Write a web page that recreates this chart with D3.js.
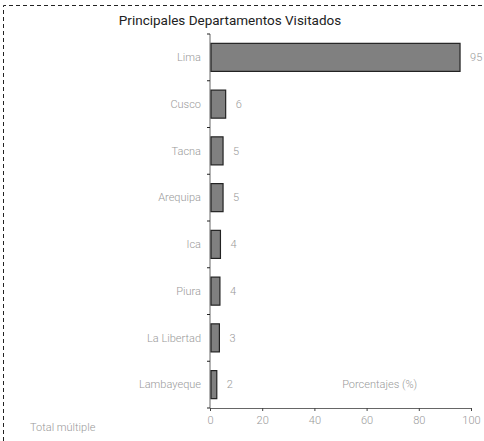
<!DOCTYPE html>
<html>
<head>
<meta charset="utf-8">
<script src="https://cdn.jsdelivr.net/npm/d3@7"></script>
<style>
  body { margin: 0; background: #fff; overflow: hidden; }
  svg { display: block; }
  text { font-family: Roboto, "Open Sans", sans-serif; font-weight: 300; }
</style>
</head>
<body>
<div id="chart"></div>
<script>
// data
const departamentos = ["Lima", "Cusco", "Tacna", "Arequipa", "Ica", "Piura", "La Libertad", "Lambayeque"];
const porcentajes = [95.8, 6.0, 5.0, 5.0, 4.0, 3.8, 3.6, 2.6];
const etiquetas = ["95", "6", "5", "5", "4", "4", "3", "2"];
const xTicks = [0, 20, 40, 60, 80, 100];

const margin = {top: 34, right: 13, bottom: 33, left: 210},
  width = 484 - margin.left - margin.right,
  height = 441 - margin.top - margin.bottom;

const svg = d3.select("#chart")
  .append("svg")
    .attr("width", 484)
    .attr("height", 441);

// dashed frame (only top and left edges are visible)
svg.append("path")
  .attr("d", "M3.5,441V5.5H484")
  .attr("fill", "none")
  .attr("stroke", "#222")
  .attr("stroke-dasharray", "4,3");

svg.append("text")
  .attr("x", 230)
  .attr("y", 25)
  .attr("text-anchor", "middle")
  .style("font-size", "13.5px")
  .style("font-weight", 400)
  .attr("fill", "#222")
  .text("Principales Departamentos Visitados");

const g = svg.append("g")
  .attr("transform", "translate(" + margin.left + "," + margin.top + ")");

let x = d3.scaleLinear()
  .domain([0, 100])
  .range([0, 261]);

let y = d3.scaleBand()
  .domain(departamentos)
  .range([0, 374])
  .paddingInner(0.4)
  .paddingOuter(0.2);

// x axis
const xAxis = g.append("g")
  .attr("transform", "translate(0,374)")
  .call(d3.axisBottom(x).tickValues(xTicks).tickSize(3).tickPadding(5));
xAxis.select(".domain").attr("stroke", "#666");
xAxis.selectAll(".tick line").attr("stroke", "#444");
xAxis.selectAll("text")
  .attr("fill", "#999")
  .style("font-size", "11px");

// y axis: line plus ticks at band edges
g.append("line")
  .attr("x1", 0).attr("x2", 0)
  .attr("y1", 0).attr("y2", 374)
  .attr("stroke", "#666");

g.selectAll("ytick")
  .data(d3.range(departamentos.length + 1))
  .enter()
  .append("line")
    .attr("x1", -3)
    .attr("x2", 0)
    .attr("y1", function(i){ return i * 374 / departamentos.length; })
    .attr("y2", function(i){ return i * 374 / departamentos.length; })
    .attr("stroke", "#222");

g.selectAll("ylabel")
  .data(departamentos)
  .enter()
  .append("text")
    .attr("x", -9)
    .attr("y", function(d){ return y(d) + y.bandwidth() / 2; })
    .attr("dy", "0.35em")
    .attr("text-anchor", "end")
    .attr("fill", "#999")
    .style("font-size", "11px")
    .text(function(d){ return d; });

// bars
g.selectAll("bar")
  .data(departamentos)
  .enter()
  .append("rect")
    .attr("x", 1)
    .attr("y", function(d){ return y(d); })
    .attr("width", function(d, i){ return x(porcentajes[i]) - 1; })
    .attr("height", y.bandwidth())
    .attr("fill", "#808080")
    .attr("stroke", "#222")
    .attr("stroke-width", 1.2);

// value labels
g.selectAll("vlabel")
  .data(departamentos)
  .enter()
  .append("text")
    .attr("x", function(d, i){ return x(porcentajes[i]) + 10; })
    .attr("y", function(d){ return y(d) + y.bandwidth() / 2; })
    .attr("dy", "0.35em")
    .attr("fill", "#999")
    .style("font-size", "11px")
    .text(function(d, i){ return etiquetas[i]; });

g.append("text")
  .attr("x", x(65))
  .attr("y", y("Lambayeque") + y.bandwidth() / 2)
  .attr("dy", "0.35em")
  .attr("text-anchor", "middle")
  .attr("fill", "#999")
  .style("font-size", "11px")
  .text("Porcentajes (%)");

svg.append("text")
  .attr("x", 30)
  .attr("y", 431)
  .attr("fill", "#999")
  .style("font-size", "11px")
  .text("Total múltiple");
</script>
</body>
</html>
